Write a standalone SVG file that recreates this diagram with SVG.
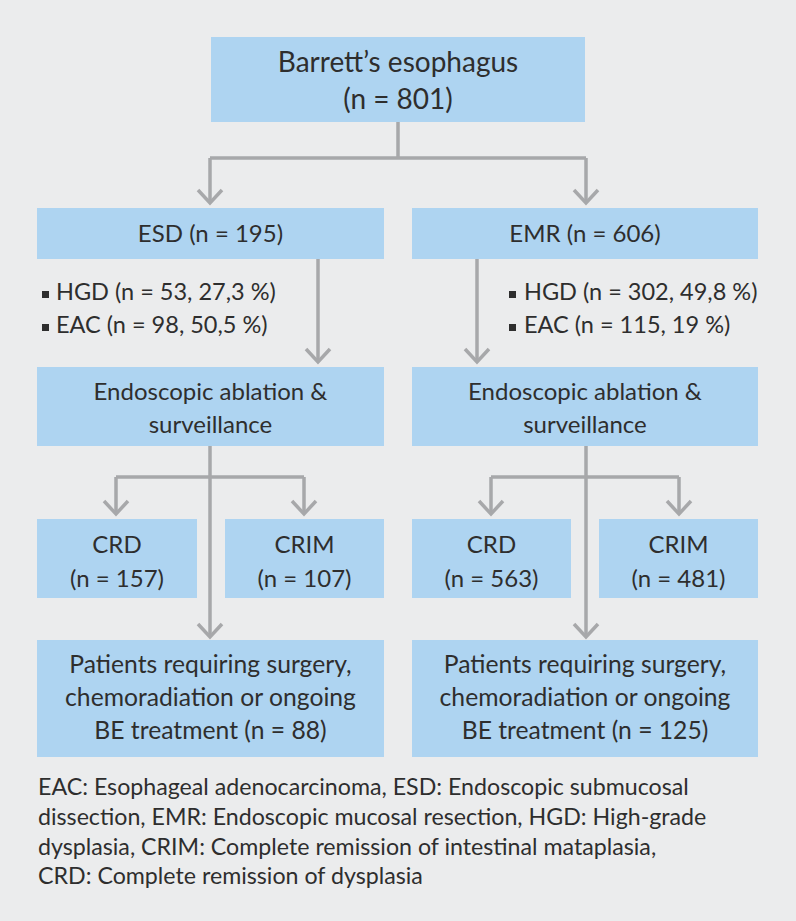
<svg xmlns="http://www.w3.org/2000/svg" width="796" height="921" viewBox="0 0 796 921">
<defs>
<style>
.bg{fill:#ebeced}
.box{fill:#aed4f1}
.t{font-family:Lato,"Noto Sans",sans-serif;fill:#2e2e2e;font-size:24px;text-anchor:middle}
.big{font-size:28px}
.pt{font-size:24.7px}
.b{font-family:Lato,"Noto Sans",sans-serif;fill:#2e2e2e;font-size:23.5px}
.bul{fill:#2e2e2e}
.fn{font-family:Lato,"Noto Sans",sans-serif;fill:#2e2e2e;font-size:23.2px}
.ln{fill:none;stroke:#a7a8aa;stroke-width:3.5}
</style>
</defs>
<rect class="bg" x="0" y="0" width="796" height="921"/>
<g id="connectors">
<path class="ln" d="M398,122 V158 M210,158 H586 M210,158 V203 M586,158 V203"/>
<polyline class="ln" points="198,190 210,203 222,190"/>
<polyline class="ln" points="574,190 586,203 598,190"/>
<path class="ln" d="M318,259 V362"/>
<polyline class="ln" points="306,349 318,362 330,349"/>
<path class="ln" d="M477,259 V362"/>
<polyline class="ln" points="465,349 477,362 489,349"/>
<path class="ln" d="M210,446 V637 M116,477 H304 M116,477 V514 M304,477 V514"/>
<polyline class="ln" points="104,501 116,514 128,501"/>
<polyline class="ln" points="292,501 304,514 316,501"/>
<polyline class="ln" points="198,624 210,637 222,624"/>
<path class="ln" d="M586,446 V637 M491,477 H679 M491,477 V514 M679,477 V514"/>
<polyline class="ln" points="479,501 491,514 503,501"/>
<polyline class="ln" points="667,501 679,514 691,501"/>
<polyline class="ln" points="574,624 586,637 598,624"/>
</g>
<g id="barrett">
<rect class="box" x="211" y="37" width="374" height="85"/>
<text class="t big" x="398" y="72">Barrett’s esophagus</text>
<text class="t big" x="398" y="109">(n = 801)</text>
</g>
<g id="esd">
<rect class="box" x="37" y="208" width="347" height="51"/>
<text class="t" x="210.5" y="242">ESD (n = 195)</text>
</g>
<g id="emr">
<rect class="box" x="412" y="208" width="346" height="51"/>
<text class="t" x="585" y="242">EMR (n = 606)</text>
</g>
<g id="esd-details">
<rect class="bul" x="42" y="291" width="7" height="7"/>
<rect class="bul" x="42" y="324" width="7" height="7"/>
<text class="b" x="56" y="300">HGD (n = 53, 27,3 %)</text>
<text class="b" x="56" y="333">EAC (n = 98, 50,5 %)</text>
</g>
<g id="emr-details">
<rect class="bul" x="509" y="291" width="7" height="7"/>
<rect class="bul" x="509" y="324" width="7" height="7"/>
<text class="b" x="524" y="300">HGD (n = 302, 49,8 %)</text>
<text class="b" x="524" y="333">EAC (n = 115, 19 %)</text>
</g>
<g id="ablation-left">
<rect class="box" x="37" y="367" width="347" height="79"/>
<text class="t" x="210.5" y="400">Endoscopic ablation &amp;</text>
<text class="t" x="210.5" y="433">surveillance</text>
</g>
<g id="ablation-right">
<rect class="box" x="412" y="367" width="346" height="79"/>
<text class="t" x="585" y="400">Endoscopic ablation &amp;</text>
<text class="t" x="585" y="433">surveillance</text>
</g>
<g id="crd-left">
<rect class="box" x="37" y="519" width="160" height="79"/>
<text class="t" x="117" y="553">CRD</text>
<text class="t" x="117" y="587">(n = 157)</text>
</g>
<g id="crim-left">
<rect class="box" x="225" y="519" width="159" height="79"/>
<text class="t" x="304.5" y="553">CRIM</text>
<text class="t" x="304.5" y="587">(n = 107)</text>
</g>
<g id="crd-right">
<rect class="box" x="412" y="519" width="159" height="79"/>
<text class="t" x="491.5" y="553">CRD</text>
<text class="t" x="491.5" y="587">(n = 563)</text>
</g>
<g id="crim-right">
<rect class="box" x="599" y="519" width="159" height="79"/>
<text class="t" x="678.5" y="553">CRIM</text>
<text class="t" x="678.5" y="587">(n = 481)</text>
</g>
<g id="patients-left">
<rect class="box" x="37" y="640" width="347" height="117"/>
<text class="t pt" x="210.5" y="673">Patients requiring surgery,</text>
<text class="t pt" x="210.5" y="706">chemoradiation or ongoing</text>
<text class="t pt" x="210.5" y="739">BE treatment (n = 88)</text>
</g>
<g id="patients-right">
<rect class="box" x="412" y="640" width="346" height="117"/>
<text class="t pt" x="585" y="673">Patients requiring surgery,</text>
<text class="t pt" x="585" y="706">chemoradiation or ongoing</text>
<text class="t pt" x="585" y="739">BE treatment (n = 125)</text>
</g>
<g id="footnote">
<text class="fn" x="38" y="795">EAC: Esophageal adenocarcinoma, ESD: Endoscopic submucosal</text>
<text class="fn" x="38" y="825">dissection, EMR: Endoscopic mucosal resection, HGD: High-grade</text>
<text class="fn" x="38" y="855">dysplasia, CRIM: Complete remission of intestinal mataplasia,</text>
<text class="fn" x="38" y="884">CRD: Complete remission of dysplasia</text>
</g>
</svg>
